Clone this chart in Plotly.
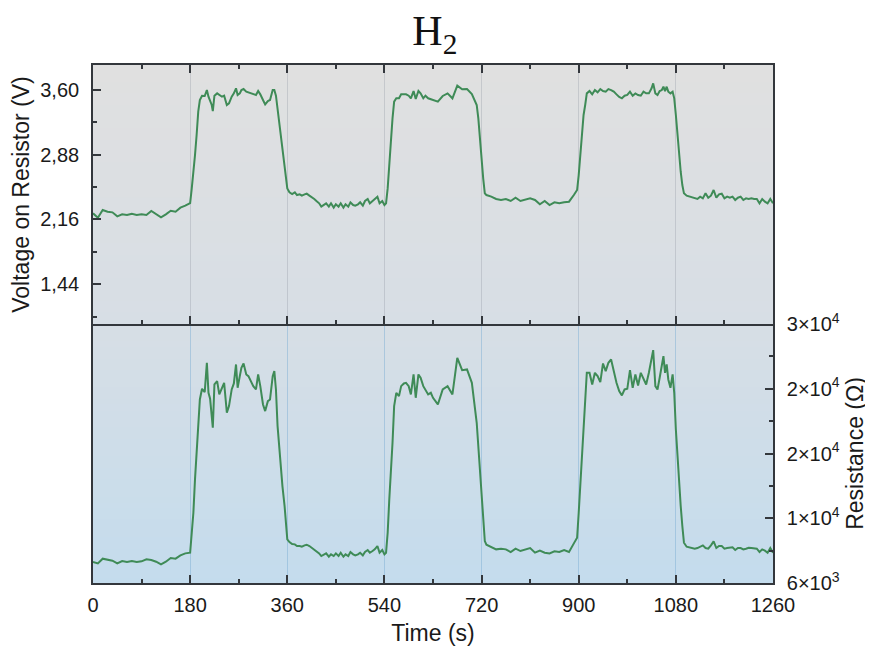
import plotly.graph_objects as go

# ---------------- data ----------------
time_s = [0, 9, 18, 27, 36, 45, 54, 63, 72, 81, 90, 99, 108, 117, 126, 135, 144, 153, 162, 171,
          180, 183, 186, 189, 192, 195, 198, 202, 207, 211, 214, 217, 220, 222, 225, 230, 234, 239, 243, 248,
          252, 257, 261, 265, 268, 272, 275, 279, 284, 288, 293, 297, 302, 306, 310, 315, 319, 324, 328, 333,
          336, 339, 342, 347, 351, 355, 358, 360, 364, 369, 374, 378, 383, 387, 392, 396, 401, 405, 410, 414,
          419, 423, 428, 432, 437, 441, 446, 450, 455, 459, 464, 468, 473, 477, 482, 486, 491, 495, 500, 504,
          509, 513, 518, 522, 527, 531, 536, 540, 543, 546, 549, 552, 555, 558, 562, 567, 571, 576, 580, 585,
          589, 594, 598, 603, 607, 612, 616, 621, 626,
          630, 639, 648, 657, 666, 675, 684, 693, 702, 711, 714, 717, 720, 723, 726, 729, 738, 747, 756, 765,
          774, 783, 792, 801, 810, 819, 828, 837, 846, 855, 864, 873, 882, 891, 897, 900, 903, 906, 909, 912,
          915, 920, 925, 930, 935, 940, 945, 950, 955, 960, 965, 970, 975, 980, 985, 990, 995, 1000, 1005, 1010,
          1015, 1020, 1025, 1030, 1035, 1038, 1042, 1046, 1050, 1054, 1057, 1060, 1063, 1066, 1070, 1074, 1077, 1080, 1083, 1086,
          1089, 1092, 1095, 1100, 1105, 1110, 1115, 1120, 1125, 1130, 1135, 1140, 1145, 1150, 1155, 1160, 1165, 1170, 1175, 1180,
          1185, 1190, 1195, 1200, 1205, 1210, 1215, 1220, 1225, 1230, 1235, 1240, 1245, 1250, 1255, 1260]

voltage_V = [2.227, 2.178, 2.264, 2.245, 2.238, 2.193, 2.216, 2.208, 2.223, 2.208, 2.216, 2.208, 2.253, 2.219, 2.182, 2.216, 2.256, 2.245, 2.290, 2.312,
             2.341, 2.504, 2.671, 2.874, 3.097, 3.356, 3.485, 3.533, 3.530, 3.596, 3.522, 3.485, 3.430, 3.363, 3.533, 3.559, 3.541, 3.522, 3.533, 3.430,
             3.448, 3.522, 3.559, 3.615, 3.541, 3.559, 3.596, 3.607, 3.578, 3.570, 3.559, 3.548, 3.541, 3.585, 3.548, 3.485, 3.437, 3.474, 3.485, 3.596,
             3.596, 3.533, 3.393, 3.171, 2.986, 2.800, 2.615, 2.504, 2.460, 2.441, 2.460, 2.430, 2.438, 2.423, 2.438, 2.445, 2.423, 2.408, 2.386, 2.364,
             2.338, 2.301, 2.319, 2.338, 2.301, 2.338, 2.290, 2.327, 2.301, 2.338, 2.290, 2.327, 2.301, 2.349, 2.319, 2.312, 2.327, 2.349, 2.312, 2.364,
             2.386, 2.338, 2.364, 2.386, 2.412, 2.338, 2.364, 2.319, 2.338, 2.504, 2.726, 3.023, 3.282, 3.467, 3.504, 3.504, 3.548, 3.548, 3.548, 3.533,
             3.504, 3.585, 3.496, 3.585, 3.559, 3.504, 3.533, 3.504, 3.496,
             3.485, 3.467, 3.530, 3.559, 3.504, 3.644, 3.604, 3.607, 3.552, 3.430, 3.282, 3.023, 2.800, 2.615, 2.449, 2.430, 2.412, 2.386, 2.375, 2.386,
             2.364, 2.400, 2.364, 2.378, 2.393, 2.375, 2.327, 2.364, 2.319, 2.349, 2.338, 2.349, 2.356, 2.430, 2.486, 2.652, 2.874, 3.134, 3.319, 3.430,
             3.559, 3.585, 3.548, 3.596, 3.570, 3.607, 3.585, 3.578, 3.607, 3.596, 3.578, 3.548, 3.519, 3.504, 3.533, 3.541, 3.578, 3.533, 3.559, 3.541,
             3.533, 3.578, 3.559, 3.559, 3.615, 3.670, 3.559, 3.541, 3.585, 3.596, 3.633, 3.585, 3.633, 3.578, 3.559, 3.578, 3.504, 3.319, 3.097, 2.912,
             2.689, 2.541, 2.449, 2.423, 2.412, 2.400, 2.393, 2.386, 2.412, 2.393, 2.449, 2.400, 2.423, 2.486, 2.400, 2.438, 2.445, 2.393, 2.412, 2.400,
             2.412, 2.375, 2.400, 2.412, 2.375, 2.393, 2.386, 2.393, 2.386, 2.386, 2.338, 2.386, 2.356, 2.338, 2.386, 2.338]

resistance_ohm = [7944, 7821, 8253, 8160, 8067, 7821, 8036, 7944, 8036, 7944, 8006, 8191, 8129, 7975, 7728, 7975, 8314, 8253, 8561, 8746,
                  8808, 10660, 12512, 15600, 18378, 20539, 23009, 23996, 23688, 26404, 23626, 23070, 21774, 20385, 24397, 24706, 23471, 24089, 24552, 21774,
                  22391, 23935, 24490, 26250, 24089, 25169, 25941, 26342, 25324, 25169, 24706, 24243, 23935, 25324, 24243, 22545, 21928, 22854, 23009, 25169,
                  25632, 23935, 20539, 17143, 14982, 13130, 10969, 10043, 9796, 9611, 9580, 9425, 9425, 9364, 9487, 9549, 9425, 9271, 9055, 8932,
                  8746, 8500, 8654, 8746, 8438, 8654, 8500, 8746, 8500, 8808, 8438, 8654, 8500, 8870, 8654, 8561, 8654, 8808, 8561, 8870,
                  9055, 8808, 8962, 9117, 9425, 8808, 9055, 8654, 8808, 10660, 13747, 16217, 18995, 22391, 23626, 23317, 24243, 24490, 24552, 24243,
                  23471, 25324, 23163, 25324, 25015, 24243, 23935, 23471, 23626,
                  23163, 22545, 23935, 24243, 23471, 26867, 25725, 25787, 24552, 20848, 18687, 16526, 13439, 11278, 9889, 9549, 9302, 9117, 9178, 9117,
                  8870, 9178, 8962, 9117, 9240, 8808, 8993, 8808, 8746, 8932, 8870, 9055, 8870, 9672, 10197, 12512, 14982, 17452, 19613, 22391,
                  25478, 25478, 24397, 25478, 25169, 24614, 26342, 25632, 26404, 26713, 25632, 24552, 23780, 23379, 23935, 23996, 25725, 24089, 25324, 24305,
                  25478, 24861, 24397, 25478, 26867, 27577, 24243, 23935, 25015, 26095, 27022, 25478, 26250, 24861, 24089, 25324, 23626, 20230, 17452, 15291,
                  13130, 11278, 9734, 9364, 9302, 9240, 9178, 9240, 9364, 9487, 9240, 9178, 9487, 9858, 9240, 9425, 9425, 9178, 9240, 9302,
                  9302, 9055, 9240, 9240, 9117, 9178, 9271, 9240, 9178, 9178, 8870, 9117, 8993, 8808, 9240, 8808]

x_ticks = [0, 180, 360, 540, 720, 900, 1080, 1260]
v_ticks = [1.44, 2.16, 2.88, 3.60]
v_tick_text = ["1,44", "2,16", "2,88", "3,60"]
v_minor = [1.08, 1.80, 2.52, 3.24]
r_ticks = [6000, 12000, 18000, 24000, 30000]
r_tick_text = ["6×10<sup>3</sup>", "1×10<sup>4</sup>", "2×10<sup>4</sup>", "2×10<sup>4</sup>", "3×10<sup>4</sup>"]
r_minor = [9000, 15000, 21000, 27000]

assert len(time_s) == len(voltage_V) == len(resistance_ohm), (len(time_s), len(voltage_V), len(resistance_ohm))

# ---------------- styling ----------------
LINE = "#3f8b57"
AX = "#33373c"
FONT = "Liberation Sans"

fig = go.Figure()
fig.add_trace(go.Scatter(x=time_s, y=voltage_V, mode="lines", line=dict(color=LINE, width=2),
                         xaxis="x2", yaxis="y", showlegend=False))
fig.add_trace(go.Scatter(x=time_s, y=resistance_ohm, mode="lines", line=dict(color=LINE, width=2),
                         xaxis="x", yaxis="y2", showlegend=False))

# vertical gradient background (grey at top -> light blue at bottom)
stops = [(0.0, (196, 220, 237)), (0.5, (215, 222, 229)), (1.0, (224, 224, 224))]
def col(p):
    for (p0, c0), (p1, c1) in zip(stops[:-1], stops[1:]):
        if p0 <= p <= p1:
            f = (p - p0) / (p1 - p0)
            return "rgb(%d,%d,%d)" % tuple(round(a + (b - a) * f) for a, b in zip(c0, c1))
    return "rgb(%d,%d,%d)" % stops[-1][1]

N = 90
shapes = []
for i in range(N):
    y0 = i / N
    y1 = (i + 1) / N + 0.002
    shapes.append(dict(type="rect", xref="paper", yref="paper", x0=0, x1=1, y0=y0, y1=min(y1, 1),
                       fillcolor=col((i + 0.5) / N), line=dict(width=0), layer="below"))

common_x = dict(range=[0, 1260], tickvals=x_ticks, ticks="inside", ticklen=8, tickwidth=1.5, tickcolor=AX,
                minor=dict(ticks="inside", ticklen=4, tickwidth=1.5, tickcolor=AX, dtick=90, tick0=0),
                showline=True, linecolor=AX, linewidth=1.6, showgrid=True, gridwidth=1, zeroline=False,
                automargin=False)

fig.update_layout(
    width=873, height=655,
    margin=dict(l=85, r=108, t=57, b=80),
    paper_bgcolor="white", plot_bgcolor="rgba(0,0,0,0)",
    shapes=shapes,
    font=dict(family=FONT, color="#1a1a1a"),
    title=dict(text="H<sub>2</sub>", x=0.489, xanchor="center", y=0.966, yanchor="middle",
               font=dict(family="Liberation Serif", size=42, color="#111"), automargin=False),
    xaxis=dict(**common_x, domain=[0, 1], anchor="y2", mirror=False, gridcolor="rgba(120,170,210,0.45)",
               tickfont=dict(size=20), ticklabelstandoff=3,
               title=dict(text="Time (s)", font=dict(size=23), standoff=10)),
    xaxis2=dict(**common_x, domain=[0, 1], anchor="y", matches="x", mirror="ticks", showticklabels=False,
                gridcolor="rgba(150,155,165,0.35)"),
    yaxis=dict(domain=[0.5, 1], anchor="x2", range=[0.998, 3.874], tickvals=v_ticks, ticktext=v_tick_text,
               ticks="inside", ticklen=8, tickwidth=1.5, tickcolor=AX,
               minor=dict(ticks="inside", ticklen=4, tickwidth=1.5, tickcolor=AX, tickvals=v_minor),
               showline=True, linecolor=AX, linewidth=1.6, mirror=True, showgrid=False, zeroline=False,
               tickfont=dict(size=20), ticklabelstandoff=8, automargin=False,
               title=dict(text="Voltage on Resistor (V)", font=dict(size=23), standoff=8)),
    yaxis2=dict(domain=[0, 0.5], anchor="x", side="right", range=[6000, 30000], tickvals=r_ticks, ticktext=r_tick_text,
                ticks="inside", ticklen=8, tickwidth=1.5, tickcolor=AX,
                minor=dict(ticks="inside", ticklen=4, tickwidth=1.5, tickcolor=AX, tickvals=r_minor),
                showline=True, linecolor=AX, linewidth=1.6, mirror=True, showgrid=False, zeroline=False,
                tickfont=dict(size=20), ticklabelstandoff=8, automargin=False,
                title=dict(text="Resistance (Ω)", font=dict(size=23), standoff=8)),
)

fig.write_html("out.html")
